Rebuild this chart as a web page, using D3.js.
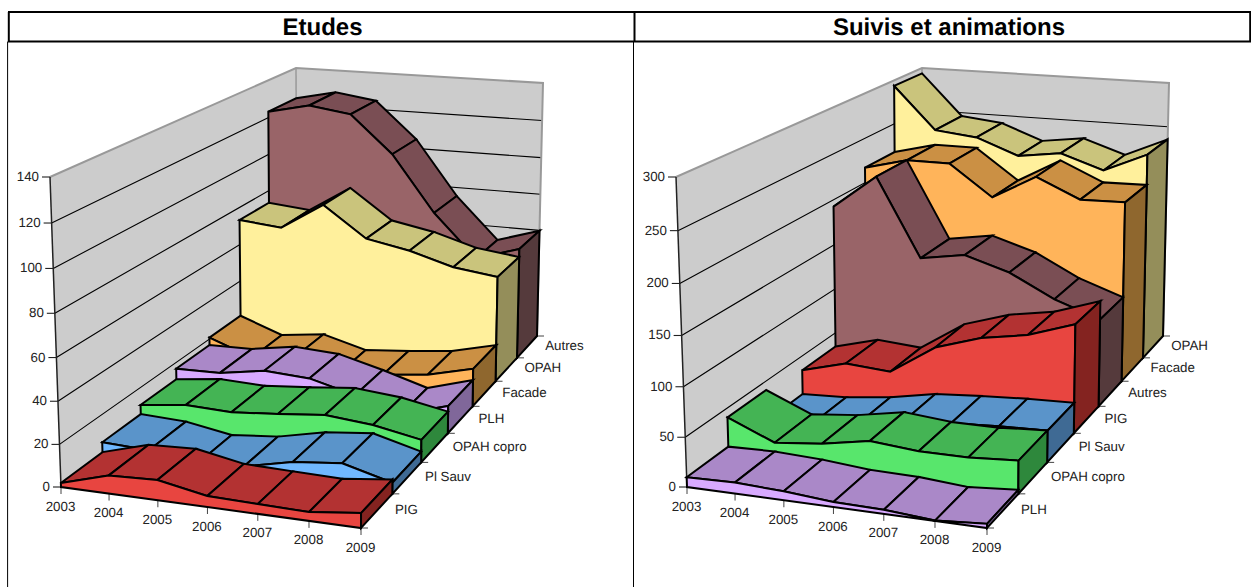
<!DOCTYPE html><html><head><meta charset="utf-8"><script src="https://cdn.jsdelivr.net/npm/d3@7"></script>
<style>body{margin:0;background:#fff}svg{display:block}text{font-family:"Liberation Sans",Arial,sans-serif;fill:#222;text-rendering:geometricPrecision}</style></head><body><svg id="c" width="1251" height="587"></svg><script>
const years=["2003","2004","2005","2006","2007","2008","2009"];
const namesEtudes=["PIG","Pl Sauv","OPAH copro","PLH","Facade","OPAH","Autres"];
const namesSuivis=["PLH","OPAH copro","Pl Sauv","PIG","Autres","Facade","OPAH"];
const pig=[1.9,8.4,9.4,5.1,4.5,4.0,6.7];
const plSauv=[6.7,5.7,1.8,3.9,8.9,11.3,5.2];
const copro=[11.3,14,13.2,15.1,17.4,15.3,10.9];
const plh=[16.8,17.2,20.9,19.6,13.7,6.9,13.7];
const facade=[20.8,12.5,15.4,9.2,11.2,13.8,19.5];
const opah=[73.3,71.1,85.2,69.3,65,58.4,55.5];
const autres=[123.2,128,124.8,105.1,75.3,52.6,59.8];
const plh2=[9.8,11,9,4.9,4,0.3,4];
const copro2=[40.4,20.1,25.2,34.3,30,30,33.2];
const plSauv2=[7.5,9.7,15.5,24.9,28.6,31.4,32.9];
const pig2=[34.2,47.3,43.7,75.6,91.2,99.5,116];
const autres2=[192.5,229.3,144,152,137.5,113,96];
const facade2=[217,229,229,195,221.8,200.5,201.5];
const opah2=[293.6,246,241,223.3,229.8,214,235.5];
const etudesValues=[pig,plSauv,copro,plh,facade,opah,autres];
const suivisValues=[plh2,copro2,plSauv2,pig2,autres2,facade2,opah2];
const etudesTicks=[0,20,40,60,80,100,120,140];
const suivisTicks=[0,50,100,150,200,250,300];
const palette={"PIG":["#e84540","#b33232","#842320"],"Pl Sauv":["#70b8ff","#5a94ca","#3f6a94"],"OPAH copro":["#58e66c","#44b454","#2e883c"],"PLH":["#d8aaff","#aa88c8","#80679a"],"Facade":["#ffb45a","#cb9044","#8f672e"],"OPAH":["#fff09c","#cac47c","#948e5a"],"Autres":["#996468","#7a4e54","#553a3c"]};

const quad=(p)=>{const [x0,y0]=p[0],[x1,y1]=p[1],[x2,y2]=p[2],[x3,y3]=p[3];
const dx1=x1-x2,dx2=x3-x2,sx=x0-x1+x2-x3,dy1=y1-y2,dy2=y3-y2,sy=y0-y1+y2-y3,den=dx1*dy2-dx2*dy1;
const g=(sx*dy2-dx2*sy)/den,h=(dx1*sy-sx*dy1)/den,a=x1-x0+g*x1,b=x3-x0+h*x3,c=x0,d=y1-y0+g*y1,e=y3-y0+h*y3,f=y0;
return (u,v)=>{const w=g*u+h*v+1;return[(a*u+b*v+c)/w,(d*u+e*v+f)/w]}};
const floorH=quad([[61,487],[361,528],[537,336],[297,311]]),ceilH=quad([[50,177],[362,203],[543,83],[296,68]]);
const persp=.956;
const project=(u,v,h)=>{const b=floorH(u,v),t=ceilH(u,v),k=h*persp/(1-h+h*persp);return[b[0]+(t[0]-b[0])*k,b[1]+(t[1]-b[1])*k]};
const svg=d3.select("#c"),poly=d3.line().curve(d3.curveLinearClosed),seg=d3.line();

function chart(offset,title,titleX,names,values,ticks){
 const g=svg.append("g").attr("transform",`translate(${offset},0)`);
 const xS=d3.scalePoint(years,[0,1]),zS=d3.scaleBand(names,[0,1]),yS=d3.scaleLinear([0,d3.max(ticks)],[0,1]);
 const P=(u,v,val)=>project(u,v,yS(val));
 const top=d3.max(ticks);
 // walls
 g.append("path").attr("d",poly([P(0,0,0),P(0,1,0),P(1,1,0),P(1,1,top),P(0,1,top),P(0,0,top)])).attr("fill","#cccccc");
 g.append("path").attr("d",poly([P(0,0,0),P(1,0,0),P(1,1,0),P(0,1,0)])).attr("fill","#fff");
 ticks.filter(t=>t>0&&t<top).forEach(t=>g.append("path").attr("d",seg([P(0,0,t),P(0,1,t),P(1,1,t)])).attr("fill","none").attr("stroke","#000").attr("stroke-width",1.1));
 g.append("path").attr("d",seg([P(0,0,top),P(0,1,top),P(1,1,top),P(1,1,0)])).attr("fill","none").attr("stroke","#999").attr("stroke-width",2);
 g.append("path").attr("d",seg([P(0,1,top),P(0,1,ticks[Math.floor(ticks.length/2)])])).attr("stroke","#999").attr("stroke-width",1.5);
 g.append("path").attr("d",seg([P(0,0,top),P(0,0,0)])).attr("fill","none").attr("stroke","#222").attr("stroke-width",1.5);
 // y axis
 ticks.forEach(t=>{const [x,y]=P(0,0,t);
  g.append("path").attr("d",seg([[x,y],[x-8,y]])).attr("stroke","#222").attr("stroke-width",1.1);
  g.append("text").attr("x",x-11).attr("y",y+4).attr("text-anchor","end").attr("font-size",13.33).text(t)});
 // floor edge ticks and labels
 years.forEach(d=>{const [x,y]=P(xS(d),0,0);
  g.append("path").attr("d",seg([[x,y],[x,y+7]])).attr("stroke","#444").attr("stroke-width",1);
  g.append("text").attr("x",x-.5).attr("y",y+23.5).attr("text-anchor","middle").attr("font-size",13.33).text(d)});
 d3.range(names.length+1).forEach(i=>{const [x,y]=floorH(1,i/names.length);
  g.append("path").attr("d",seg([[x,y],[x+7,y]])).attr("stroke","#444").attr("stroke-width",1)});
 names.forEach(n=>{const [x,y]=floorH(1,zS(n)+zS.bandwidth()/2);
  g.append("text").attr("x",x+18).attr("y",y+3).attr("font-size",13.33).text(n)});
 // series back to front
 d3.range(names.length-1,-1,-1).forEach(i=>{
  const n=names[i],vals=values[i],z0=zS(n),z1=z0+zS.bandwidth(),col=palette[n];
  const s=g.append("g").attr("stroke","#000").attr("stroke-width",2).attr("stroke-linejoin","miter");
  d3.range(years.length-1).forEach(j=>{const a=xS(years[j]),b=xS(years[j+1]);
   s.append("path").attr("fill",col[1]).attr("d",poly([P(a,z0,vals[j]),P(b,z0,vals[j+1]),P(b,z1,vals[j+1]),P(a,z1,vals[j])]))});
  const front=years.map((d,j)=>P(xS(d),z0,vals[j]));
  s.append("path").attr("fill",col[0]).attr("d",poly([...front,P(1,z0,0),P(0,z0,0)]));
  const last=vals[vals.length-1];
  s.append("path").attr("fill",col[2]).attr("d",poly([P(1,z0,0),P(1,z0,last),P(1,z1,last),P(1,z1,0)]));
 });
 svg.append("text").attr("x",titleX).attr("y",35).attr("text-anchor","middle").attr("font-size",24).attr("font-weight","bold").style("fill","#000").text(title);
}
chart(0,"Etudes",322.5,namesEtudes,etudesValues,etudesTicks);
chart(626,"Suivis et animations",949,namesSuivis,suivisValues,suivisTicks);
// frame
const frame=[[[8,12],[1251,12],2.2],[[8,41.5],[1251,41.5],1.8],[[8.8,12],[8.8,41.5],2],[[634.5,12],[634.5,41.5],2],[[1250.2,12],[1250.2,41.5],2],[[7.6,41.5],[7.6,587],1],[[633.5,41.5],[633.5,587],1]];
frame.forEach(([a,b,w])=>svg.append("path").attr("d",seg([a,b])).attr("stroke","#000").attr("stroke-width",w));
</script></body></html>
